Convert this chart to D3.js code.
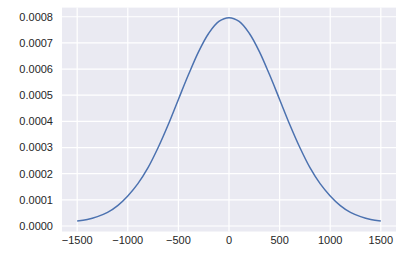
<!DOCTYPE html>
<html lang="en">
<head>
<meta charset="utf-8">
<title>density</title>
<script src="https://d3js.org/d3.v7.min.js"></script>
<style>
  body { margin: 0; background: #fff; }
  text { font-family: "Liberation Sans", Arial, sans-serif; font-size: 11px; fill: #262626; }
</style>
</head>
<body>
<div id="chart"></div>
<script>

// values
var xs = [-1500, -1400, -1300, -1200, -1100, -1000, -900, -800, -700, -600, -500, -400, -300, -200, -100,
          0, 100, 200, 300, 400, 500, 600, 700, 800, 900, 1000, 1100, 1200, 1300, 1400, 1500];
var dens = [0.000019, 0.000025, 0.000036, 0.000052, 0.000078, 0.000115, 0.000162, 0.000223, 0.000300, 0.000388, 0.000484,
            0.000579, 0.000667, 0.000737, 0.000782, 0.000796, 0.000782, 0.000737, 0.000667, 0.000579, 0.000484,
            0.000388, 0.000300, 0.000223, 0.000162, 0.000115, 0.000078, 0.000052, 0.000036, 0.000025, 0.000019];
var xTicks = [-1500, -1000, -500, 0, 500, 1000, 1500];
var yTicks = [0, 0.0001, 0.0002, 0.0003, 0.0004, 0.0005, 0.0006, 0.0007, 0.0008];

var width = 418, height = 255;

var svg = d3.select("#chart").append("svg")
  .attr("width", width)
  .attr("height", height);

var x = d3.scaleLinear().domain([-1650, 1650]).range([62, 396]);
var y = d3.scaleLinear().domain([-0.000021, 0.000835]).range([231.5, 7.6]);

// plot background
svg.append("rect")
  .attr("x", x.range()[0])
  .attr("y", y.range()[1])
  .attr("width", x.range()[1] - x.range()[0])
  .attr("height", y.range()[0] - y.range()[1])
  .attr("fill", "#eaeaf2");

// grid
svg.append("g").selectAll("line")
  .data(xTicks).enter().append("line")
    .attr("x1", d => x(d)).attr("x2", d => x(d))
    .attr("y1", y.range()[1]).attr("y2", y.range()[0])
    .attr("stroke", "#fff").attr("stroke-width", 1.2);

svg.append("g").selectAll("line")
  .data(yTicks).enter().append("line")
    .attr("x1", x.range()[0]).attr("x2", x.range()[1])
    .attr("y1", d => y(d)).attr("y2", d => y(d))
    .attr("stroke", "#fff").attr("stroke-width", 1.2);

// tick labels
svg.append("g").selectAll("text")
  .data(yTicks).enter().append("text")
    .attr("x", 53)
    .attr("y", d => y(d))
    .attr("dy", "0.35em")
    .attr("text-anchor", "end")
    .text(d => d3.format(".4f")(d));

svg.append("g").selectAll("text")
  .data(xTicks).enter().append("text")
    .attr("x", d => x(d))
    .attr("y", 244)
    .attr("text-anchor", "middle")
    .text(d => d3.format("d")(d));

// the curve
var line = d3.line()
  .x((d, i) => x(xs[i]))
  .y(d => y(d))
  .curve(d3.curveCatmullRom);

svg.append("path")
  .datum(dens)
  .attr("d", line)
  .attr("fill", "none")
  .attr("stroke", "#4c72b0")
  .attr("stroke-width", 1.5);

</script>
</body>
</html>
